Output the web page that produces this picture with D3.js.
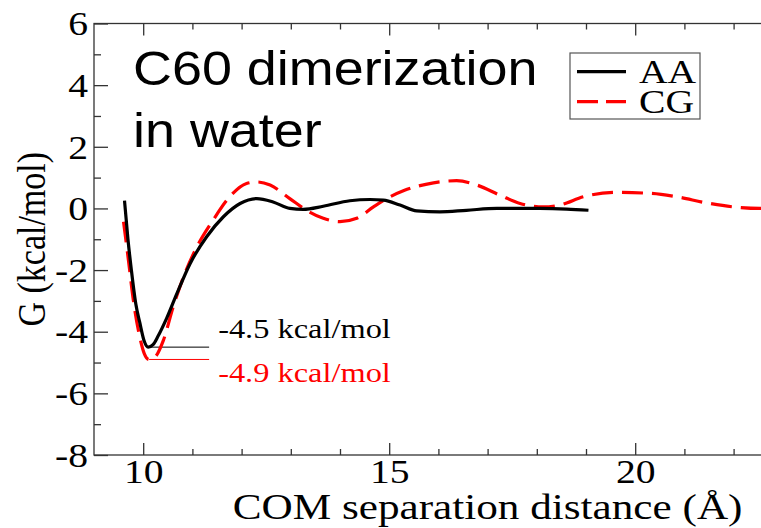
<!DOCTYPE html>
<html>
<head>
<meta charset="utf-8">
<script src="https://cdn.jsdelivr.net/npm/d3@7"></script>
<style>
  html, body { margin: 0; padding: 0; background: #fff; }
  svg { display: block; }
</style>
</head>
<body>
<svg id="chart" width="761" height="528"></svg>
<script>
// Free energy profile G(r) for C60 dimerization in water: all-atom vs coarse-grained
const aaDistance = [9.62, 9.69, 9.76, 9.85, 9.93, 10.02, 10.10, 10.20, 10.30, 10.48, 10.68, 10.95, 11.29, 11.63, 11.97, 12.31, 12.64, 12.98, 13.25, 13.66, 14.20, 14.61, 14.88, 15.22, 15.56, 16.03, 16.57, 17.19, 17.59, 18.06, 18.61, 19.05];
const aaEnergy   = [0.25, -1.0, -2.0, -3.1, -3.7, -4.3, -4.5, -4.42, -4.15, -3.55, -2.78, -1.8, -0.92, -0.27, 0.16, 0.32, 0.21, 0.0, -0.03, 0.07, 0.25, 0.29, 0.27, 0.11, -0.08, -0.11, -0.06, 0.0, 0.0, 0.0, -0.02, -0.06];

const cgDistance = [9.60, 9.70, 9.80, 9.93, 10.02, 10.12, 10.24, 10.41, 10.61, 10.82, 11.09, 11.42, 11.76, 12.10, 12.31, 12.58, 12.98, 13.32, 13.66, 14.00, 14.34, 14.68, 15.02, 15.30, 15.90, 16.37, 16.78, 17.25, 17.66, 18.13, 18.47, 18.95, 19.62, 20.30, 20.84, 21.45, 21.99, 22.54, 22.90];
const cgEnergy   = [-0.43, -1.68, -2.98, -4.17, -4.7, -4.9, -4.82, -4.28, -3.19, -2.22, -1.25, -0.38, 0.38, 0.81, 0.86, 0.76, 0.32, -0.06, -0.32, -0.43, -0.32, 0.05, 0.38, 0.58, 0.83, 0.90, 0.76, 0.43, 0.16, 0.05, 0.11, 0.38, 0.52, 0.49, 0.38, 0.18, 0.05, 0.0, 0.0];

const seriesNames = ["AA", "CG"];
const minimumLabels = ["-4.5 kcal/mol", "-4.9 kcal/mol"];
const minimumValues = [-4.5, -4.9];
const minimumAt = [10.10, 10.12];
const yMajorTicks = [-8, -6, -4, -2, 0, 2, 4, 6];
const yMinorTicks = [-7, -5, -3, -1, 1, 3, 5];
const xMajorTicks = [10, 15, 20];
const xMinorTicks = [11, 12, 13, 14, 16, 17, 18, 19, 21, 22];
const titleLines = ["C60 dimerization", "in water"];

const svg = d3.select("#chart");
const serif = "'Liberation Serif', 'Times New Roman', serif";
const sans = "'Liberation Sans', Arial, sans-serif";
const stretch = 1.2;      // serif glyphs are drawn slightly wide
const axisColor = "#333";

const plotLeft = 94, plotRight = 881.2, plotTop = 23.5, plotBottom = 455;
const x = d3.scaleLinear().domain([9, 25]).range([plotLeft, plotRight]);
const y = d3.scaleLinear().domain([-8, 6]).range([plotBottom, plotTop]);

// frame
svg.append("rect")
  .attr("x", plotLeft).attr("y", plotTop)
  .attr("width", plotRight - plotLeft).attr("height", plotBottom - plotTop)
  .attr("fill", "none").attr("stroke", axisColor).attr("stroke-width", 1.3);

function styleAxis(g) {
  g.select(".domain").remove();
  g.selectAll(".tick line").attr("stroke", axisColor).attr("stroke-width", 1.3);
  g.selectAll(".tick text")
    .attr("font-family", serif).attr("font-size", 33).attr("fill", "#000");
}
const plain = d => String(d);

// y axis (ticks point inward)
svg.append("g").attr("transform", `translate(${plotLeft},0)`)
  .call(d3.axisLeft(y).tickValues(yMajorTicks).tickSize(-14).tickPadding(6).tickFormat(plain))
  .call(styleAxis)
  .call(g => g.selectAll(".tick text")
    .attr("x", 0).attr("dy", "0.34em")
    .attr("transform", `translate(-6,0) scale(${stretch},1)`));
svg.append("g").attr("transform", `translate(${plotLeft},0)`)
  .call(d3.axisLeft(y).tickValues(yMinorTicks).tickSize(-7).tickFormat(""))
  .call(styleAxis);

// bottom axis
svg.append("g").attr("transform", `translate(0,${plotBottom})`)
  .call(d3.axisBottom(x).tickValues(xMajorTicks).tickSize(-12).tickFormat(plain))
  .call(styleAxis)
  .call(g => g.selectAll(".tick text")
    .attr("y", 0).attr("dy", 0)
    .attr("transform", `translate(0,28) scale(${stretch},1)`));
svg.append("g").attr("transform", `translate(0,${plotBottom})`)
  .call(d3.axisBottom(x).tickValues(xMinorTicks).tickSize(-6).tickFormat(""))
  .call(styleAxis);

// top axis (mirrored ticks, no labels)
svg.append("g").attr("transform", `translate(0,${plotTop})`)
  .call(d3.axisTop(x).tickValues(xMajorTicks).tickSize(-12).tickFormat(""))
  .call(styleAxis);
svg.append("g").attr("transform", `translate(0,${plotTop})`)
  .call(d3.axisTop(x).tickValues(xMinorTicks).tickSize(-6).tickFormat(""))
  .call(styleAxis);

// axis titles
svg.append("text")
  .attr("transform", `translate(${(plotLeft + plotRight) / 2},519) scale(${stretch},1)`)
  .attr("text-anchor", "middle")
  .attr("font-family", serif).attr("font-size", 36)
  .text("COM separation distance (Å)");
svg.append("text")
  .attr("transform", `translate(45,${(plotTop + plotBottom) / 2}) scale(${stretch},1) rotate(-90)`)
  .attr("text-anchor", "middle")
  .attr("font-family", serif).attr("font-size", 34)
  .text("G (kcal/mol)");

// curves
const clipId = "plot-clip";
svg.append("clipPath").attr("id", clipId)
  .append("rect").attr("x", plotLeft).attr("y", plotTop)
  .attr("width", plotRight - plotLeft).attr("height", plotBottom - plotTop);

const line = d3.line().x(d => x(d[0])).y(d => y(d[1])).curve(d3.curveMonotoneX);
const aaPoints = d3.zip(aaDistance, aaEnergy);
const cgPoints = d3.zip(cgDistance, cgEnergy);

const plot = svg.append("g").attr("clip-path", `url(#${clipId})`);

// reference lines at the minima
const colors = ["#000", "#ff0000"];
const refEnd = 11.34;
minimumValues.forEach((v, i) => {
  plot.append("line")
    .attr("x1", x(minimumAt[i])).attr("x2", x(refEnd))
    .attr("y1", y(v)).attr("y2", y(v))
    .attr("stroke", colors[i]).attr("stroke-width", 1);
});

plot.append("path").datum(cgPoints)
  .attr("d", line).attr("fill", "none")
  .attr("stroke", "#ff0000").attr("stroke-width", 3.2)
  .attr("stroke-dasharray", "21,9");
plot.append("path").datum(aaPoints)
  .attr("d", line).attr("fill", "none")
  .attr("stroke", "#000").attr("stroke-width", 3.2);

// minimum labels
const labelOffsets = [-9.6, 22.5];
minimumLabels.forEach((t, i) => {
  svg.append("text")
    .attr("transform", `translate(${x(refEnd) + 9},${y(minimumValues[i]) + labelOffsets[i]}) scale(${stretch},1)`)
    .attr("font-family", serif).attr("font-size", 27)
    .attr("fill", colors[i])
    .text(t);
});

// big title
titleLines.forEach((t, i) => {
  svg.append("text")
    .attr("transform", `translate(133,${85 + i * 62}) scale(1.1,1)`)
    .attr("font-family", sans).attr("font-size", 49)
    .attr("fill", "#000")
    .text(t);
});

// legend
const legend = svg.append("g");
legend.append("rect")
  .attr("x", 570).attr("y", 53).attr("width", 130).attr("height", 66)
  .attr("fill", "#fff").attr("stroke", "#555").attr("stroke-width", 1.2);
seriesNames.forEach((name, i) => {
  const yy = 71.7 + i * 30;
  legend.append("line")
    .attr("x1", 577).attr("x2", 626).attr("y1", yy).attr("y2", yy)
    .attr("stroke", colors[i]).attr("stroke-width", 3.2)
    .attr("stroke-dasharray", i === 1 ? "21,8" : null);
  legend.append("text")
    .attr("transform", `translate(639,${83 + i * 30}) scale(${stretch},1)`)
    .attr("font-family", serif).attr("font-size", 33)
    .text(name);
});
</script>
</body>
</html>
